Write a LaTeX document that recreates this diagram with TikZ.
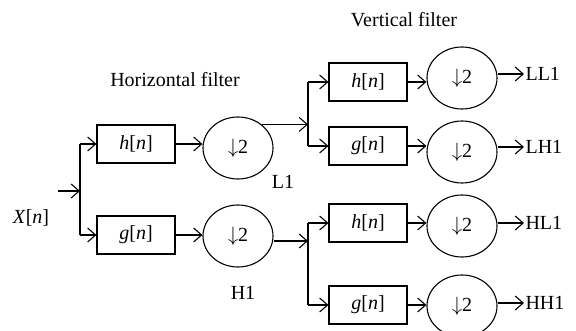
\documentclass[tikz,border=0pt]{standalone}
\usepackage{fontspec}
\setmainfont{Liberation Serif}
\usetikzlibrary{arrows.meta,shapes.geometric}
\newcommand{\sig}[1]{\textit{#1}[\textit{n}]}
\newcommand{\dnsmp}{$\downarrow$2}
\begin{document}
\begin{tikzpicture}[x=1pt,y=-1pt,
  line width=1.1pt,
  every node/.style={font=\fontsize{20}{24}\selectfont},
  filt/.style={draw,rectangle,minimum width=78pt,minimum height=38pt,inner sep=0pt},
  down/.style={draw,ellipse,minimum width=70pt,minimum height=62pt,inner sep=0pt},
  lbl/.style={inner sep=1pt},
  arr/.style={-{Straight Barb[length=8pt,width=14pt,line width=1.1pt]}}]
\useasboundingbox (0,0) rectangle (576,331);

% titles and stage labels
\node[lbl] (th) at (175,80) {Horizontal filter};
\node[lbl] (tv) at (404,20) {Vertical filter};
\node[lbl] (x)  at (31,218) {\sig{X}};
\node[lbl] (l1) at (283,182) {L1};
\node[lbl] (h1) at (243,293) {H1};

% first stage: horizontal filtering
\node[filt] (fh) at (136,144) {\sig{h}};
\node[filt] (fg) at (136,235) {\sig{g}};
\node[down] (dl) at (238,148) {\dnsmp};
\node[down] (dh) at (238,236) {\dnsmp};

\coordinate (in)  at (58,191);
\coordinate (b0)  at (80,191);
\coordinate (b0t) at (80,144);
\coordinate (b0b) at (80,235);
\draw[arr] (in) -- (b0);
\draw (b0t) -- (b0b);
\draw[arr] (b0t) -- (fh.west);
\draw[arr] (b0b) -- (fg.west);
\draw[arr] (fh.east) -- (fh.east -| dl.west);
\draw[arr] (fg.east) -- (fg.east -| dh.west);

% second stage: vertical filtering
\node[filt] (vh1) at (368,82)  {\sig{h}};
\node[filt] (vg1) at (368,146) {\sig{g}};
\node[filt] (vh2) at (368,223) {\sig{h}};
\node[filt] (vg2) at (368,305) {\sig{g}};
\node[down] (ll) at (462,78)  {\dnsmp};
\node[down] (lh) at (462,152) {\dnsmp};
\node[down] (hl) at (462,226) {\dnsmp};
\node[down] (hh) at (462,306) {\dnsmp};

\coordinate (b1)  at (308,126);
\coordinate (b1t) at (308,82);
\coordinate (b1b) at (308,146);
\coordinate (b2)  at (308,241);
\coordinate (b2t) at (308,223);
\coordinate (b2b) at (308,305);

\draw[arr] (dl.45) -- (dl.45 -| b1);
\draw[arr] (dh.east |- b2) -- (b2);
\draw (b1t) -- (b1b);
\draw (b2t) -- (b2b);
\draw[arr] (b1t) -- (vh1.west);
\draw[arr] (b1b) -- (vg1.west);
\draw[arr] (b2t) -- (vh2.west);
\draw[arr] (b2b) -- (vg2.west);

\draw[arr] (vh1.east) -- (vh1.east -| ll.west);
\draw[arr] (vg1.east) -- (vg1.east -| lh.west);
\draw[arr] (vh2.east) -- (vh2.east -| hl.west);
\draw[arr] (vg2.east) -- (vg2.east -| hh.west);

% outputs
\node[lbl,anchor=west] (oll) at (524,74)  {LL1};
\node[lbl,anchor=west] (olh) at (524,147) {LH1};
\node[lbl,anchor=west] (ohl) at (524,223) {HL1};
\node[lbl,anchor=west] (ohh) at (524,303) {HH1};
\draw[arr] (ll.east |- oll.west) -- (oll.west);
\draw[arr] (lh.east |- olh.west) -- (olh.west);
\draw[arr] (hl.east |- ohl.west) -- (ohl.west);
\draw[arr] (hh.east |- ohh.west) -- (ohh.west);
\end{tikzpicture}
\end{document}
